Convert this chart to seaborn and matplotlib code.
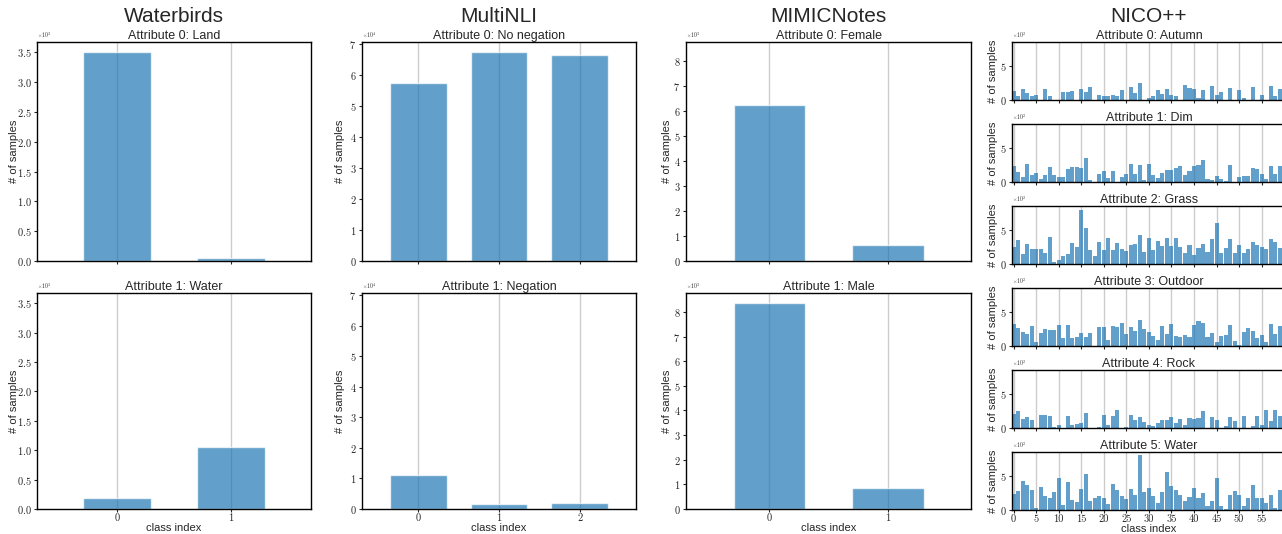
import numpy as np
import pandas as pd
import matplotlib
matplotlib.use("Agg")
import matplotlib.pyplot as plt
import seaborn as sns

# per-dataset counts: rows = attribute, columns = class index
WATERBIRDS_ATTRS = ["Land", "Water"]
WATERBIRDS_COUNTS = [[3498, 56], [184, 1057]]

MULTINLI_ATTRS = ["No negation", "Negation"]
MULTINLI_COUNTS = [[57498, 67376, 66630], [11158, 1521, 1992]]

MIMIC_ATTRS = ["Female", "Male"]
MIMIC_COUNTS = [[6250, 650], [8350, 850]]

NICO_ATTRS = ["Autumn", "Dim", "Grass", "Outdoor", "Rock", "Water"]
NICO_AUTUMN = [130, 55, 155, 100, 55, 70, 0, 160, 55, 0, 0, 110, 110, 130, 0,
               160, 115, 185, 0, 70, 55, 55, 70, 55, 140, 0, 185, 100, 245, 0,
               25, 55, 140, 85, 160, 70, 55, 0, 215, 175, 160, 25, 140, 0, 200,
               70, 115, 0, 175, 0, 145, 25, 0, 185, 0, 70, 0, 200, 55, 160]
NICO_DIM = [230, 145, 75, 260, 100, 130, 45, 100, 220, 100, 75, 75, 190, 220, 220,
            205, 350, 30, 0, 115, 160, 60, 160, 0, 75, 115, 260, 120, 250, 30,
            260, 105, 60, 135, 175, 175, 205, 230, 105, 160, 230, 245, 320, 45, 30,
            90, 45, 15, 245, 0, 75, 85, 85, 200, 185, 115, 45, 230, 120, 230]
NICO_GRASS = [250, 350, 145, 290, 220, 220, 220, 160, 390, 30, 60, 115, 145, 305, 250,
              785, 525, 205, 115, 320, 205, 380, 205, 305, 220, 190, 275, 285, 420, 175,
              380, 205, 335, 265, 380, 265, 380, 250, 160, 275, 135, 235, 290, 175, 365,
              595, 160, 235, 370, 160, 275, 160, 220, 320, 275, 250, 220, 360, 325, 235]
NICO_OUTDOOR = [320, 260, 205, 175, 290, 60, 190, 245, 230, 230, 305, 120, 305, 120, 135,
                190, 135, 190, 0, 280, 280, 90, 290, 280, 335, 175, 275, 215, 375, 250,
                205, 145, 90, 290, 175, 320, 145, 135, 160, 135, 305, 360, 335, 135, 190,
                60, 145, 160, 305, 75, 20, 205, 260, 215, 120, 160, 60, 320, 175, 290]
NICO_ROCK = [200, 245, 130, 160, 115, 0, 190, 190, 175, 15, 45, 0, 175, 45, 60,
             70, 215, 0, 0, 15, 190, 45, 175, 260, 0, 15, 190, 115, 160, 90,
             45, 30, 75, 115, 115, 160, 75, 130, 45, 145, 130, 145, 245, 0, 160,
             115, 0, 30, 160, 100, 0, 175, 0, 30, 175, 45, 260, 105, 260, 175]
NICO_WATER = [235, 280, 425, 365, 295, 30, 340, 205, 180, 265, 470, 75, 410, 150, 120,
              310, 525, 135, 180, 205, 180, 90, 380, 295, 205, 165, 310, 220, 805, 265,
              325, 205, 105, 265, 555, 355, 295, 220, 135, 190, 325, 180, 250, 60, 135,
              470, 60, 15, 220, 280, 220, 60, 180, 365, 180, 180, 105, 220, 30, 295]
NICO_COUNTS = [NICO_AUTUMN, NICO_DIM, NICO_GRASS, NICO_OUTDOOR, NICO_ROCK, NICO_WATER]

BAR_COLOR = "#1f77b4"
W, H = 1282, 534


def frac(left, top, right, bottom):
    # pixel box -> figure fraction rect
    return [left / W, 1 - bottom / H, (right - left) / W, (bottom - top) / H]


def style_axis(ax, show_xlabels):
    ax.grid(True, axis="x", color="#cccccc", linewidth=1.0)
    ax.grid(False, axis="y")
    ax.set_axisbelow(True)
    ax.ticklabel_format(axis="y", style="sci", scilimits=(0, 0))
    ax.tick_params(axis="both", direction="out", length=2.5, width=0.8,
                   labelsize=7.5, labelfontfamily="cmr10", pad=1.5,
                   bottom=True, left=True, labelbottom=show_xlabels)
    ax.tick_params(axis="x", pad=1)
    ax.yaxis.get_offset_text().set_fontsize(4)
    ax.yaxis.get_offset_text().set_fontfamily("cmr10")
    for spine in ax.spines.values():
        spine.set_color("black")
        spine.set_linewidth(1.0)
        spine.set_visible(True)
    ax.set_ylabel("# of samples", fontsize=8)
    if show_xlabels:
        ax.set_xlabel("class index", fontsize=8, labelpad=0)
    else:
        ax.set_xlabel("")


def draw_column(fig, name, attrs, counts, left, right, width, ylabel_x):
    tops = [42, 293]
    bottoms = [261, 509]
    axes = []
    for i, (attr, vals) in enumerate(zip(attrs, counts)):
        ax = fig.add_axes(frac(left, tops[i], right, bottoms[i]),
                          sharey=axes[0] if axes else None)
        classes = list(range(len(vals)))
        sns.barplot(x=classes, y=vals, ax=ax, color=BAR_COLOR, saturation=1,
                    alpha=0.7, width=width)
        ax.set_xlim(-0.7, len(vals) - 0.3)
        ax.set_title(f"Attribute {i}: {attr}", fontsize=9, pad=2)
        style_axis(ax, show_xlabels=(i == len(attrs) - 1))
        ax.yaxis.set_label_coords(ylabel_x, 0.5)
        axes.append(ax)
    fig.text((left + right) / 2 / W, 1 - 17 / H, name, ha="center",
             va="center", fontsize=15)


sns.set_style("ticks")
plt.rcParams["font.family"] = ["Liberation Sans", "DejaVu Sans"]
plt.rcParams["axes.formatter.use_mathtext"] = True
plt.rcParams["mathtext.fontset"] = "cm"
plt.rcParams["axes.unicode_minus"] = False

fig = plt.figure(figsize=(W / 100, H / 100), dpi=100)

draw_column(fig, "Waterbirds", WATERBIRDS_ATTRS, WATERBIRDS_COUNTS, 37, 311, 0.6, -0.066)
draw_column(fig, "MultiNLI", MULTINLI_ATTRS, MULTINLI_COUNTS, 362, 636, 0.7, -0.062)
draw_column(fig, "MIMICNotes", MIMIC_ATTRS, MIMIC_COUNTS, 686, 971, 0.6, -0.049)

# NICO++: six thin rows, axes run past the right edge of the figure
nico_axes = []
for i, (attr, vals) in enumerate(zip(NICO_ATTRS, NICO_COUNTS)):
    top = 42 + 82 * i
    ax = fig.add_axes(frac(1012, top, 1286, top + 58),
                      sharey=nico_axes[0] if nico_axes else None)
    classes = np.arange(len(vals))
    sns.barplot(x=classes, y=vals, ax=ax, color=BAR_COLOR, saturation=1,
                alpha=0.7, width=0.9, native_scale=True, linewidth=0)
    ax.set_xticks(np.arange(0, 60, 5))
    ax.set_xticklabels([str(t) for t in range(0, 60, 5)])
    ax.set_xlim(-0.35, 60.4)
    ax.set_title(f"Attribute {i}: {attr}", fontsize=9, pad=2)
    style_axis(ax, show_xlabels=(i == len(NICO_ATTRS) - 1))
    ax.yaxis.set_label_coords(-0.051, 0.5)
    nico_axes.append(ax)
fig.text((1012 + 1286) / 2 / W, 1 - 17 / H, "NICO++", ha="center",
         va="center", fontsize=15)

fig.savefig("out.png", dpi=100)
